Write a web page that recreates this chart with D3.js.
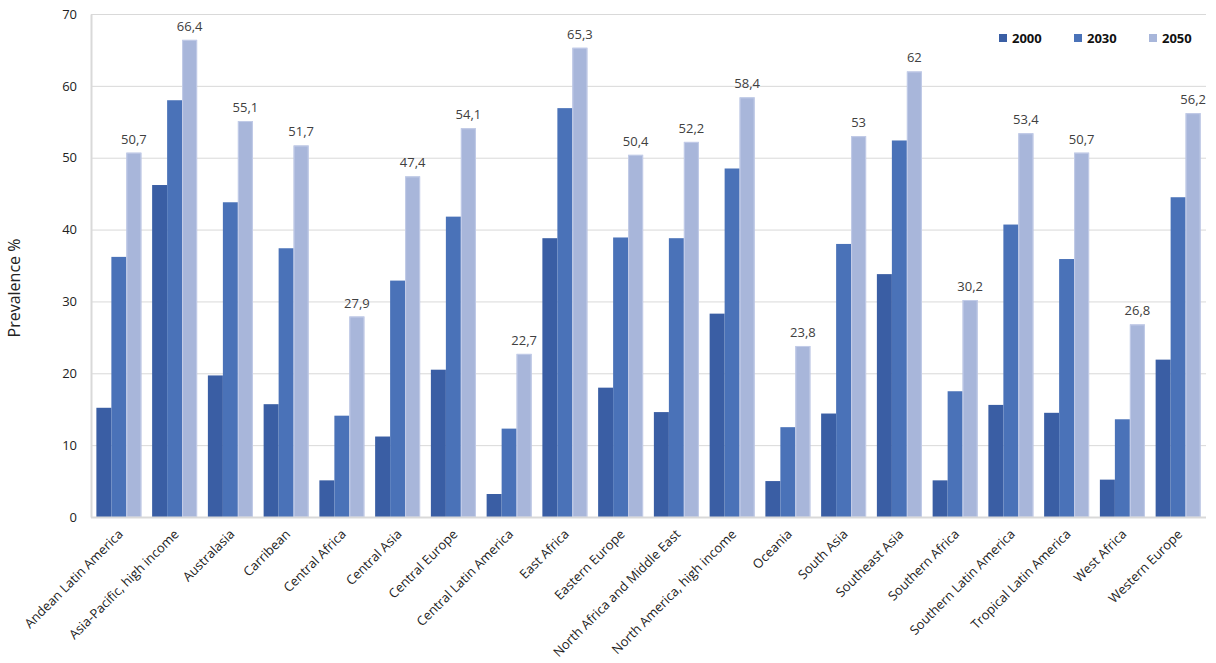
<!DOCTYPE html>
<html><head><meta charset="utf-8">
<script src="https://cdn.jsdelivr.net/npm/d3@7"></script>
<style>body{margin:0;background:#fff;} svg{display:block;}</style>
</head><body>
<svg id="chart" width="1216" height="663"></svg>
<script>
const categories = ["Andean Latin America","Asia-Pacific, high income","Australasia","Carribean","Central Africa","Central Asia","Central Europe","Central Latin America","East Africa","Eastern Europe","North Africa and Middle East","North America, high income","Oceania","South Asia","Southeast Asia","Southern Africa","Southern Latin America","Tropical Latin America","West Africa","Western Europe"];
const seriesNames = ["2000","2030","2050"];
const values2000 = [15.2,46.2,19.7,15.7,5.1,11.2,20.5,3.2,38.8,18.0,14.6,28.3,5.0,14.4,33.8,5.1,15.6,14.5,5.2,21.9];
const values2030 = [36.2,58.0,43.8,37.4,14.1,32.9,41.8,12.3,56.9,38.9,38.8,48.5,12.5,38.0,52.4,17.5,40.7,35.9,13.6,44.5];
const values2050 = [50.7,66.4,55.1,51.7,27.9,47.4,54.1,22.7,65.3,50.4,52.2,58.4,23.8,53.0,62.0,30.2,53.4,50.7,26.8,56.2];
const yTicks = [0,10,20,30,40,50,60,70];
const colors = ["#3a5ea4","#4a72b8","#a8b6da"];

const svg = d3.select("#chart");
const m = {left:91, right:1206, top:14, bottom:517};
const font = "'Open Sans', sans-serif";

const x0 = d3.scaleBand().domain(categories).range([m.left, m.right]).paddingInner(0.193).paddingOuter(0.0965);
const x1 = d3.scaleBand().domain(seriesNames).range([0, x0.bandwidth()]);
const y = d3.scaleLinear().domain([0,70]).range([m.bottom, m.top]);

// gridlines
svg.append("g").selectAll("line").data(yTicks.filter(d=>d>0)).join("line")
  .attr("x1", m.left).attr("x2", m.right)
  .attr("y1", d=>y(d)+0.5).attr("y2", d=>y(d)+0.5)
  .attr("stroke","#d9d9d9").attr("stroke-width",1);

// y axis
const yAxis = svg.append("g").attr("transform",`translate(${m.left},0)`)
  .call(d3.axisLeft(y).tickValues(yTicks).tickSize(0).tickPadding(14));
yAxis.select(".domain").attr("stroke","#d9d9d9").attr("stroke-width",2);
yAxis.selectAll("text").attr("font-family",font).attr("font-size",13).attr("fill","#222");

// bars
const series = [values2000, values2030, values2050];
const groups = svg.append("g").selectAll("g").data(categories).join("g")
  .attr("transform", d=>`translate(${x0(d)},0)`);
groups.selectAll("rect").data((d,i)=>seriesNames.map((s,j)=>({s, v:series[j][i], j}))).join("rect")
  .attr("x", d=>x1(d.s)).attr("width", x1.bandwidth())
  .attr("y", d=>y(d.v)).attr("height", d=>y(0)-y(d.v))
  .attr("fill", d=>colors[d.j]);
// subtle outline on light bars
groups.selectAll("rect.o").data((d,i)=>[{v:values2050[i]}]).join("rect")
  .attr("class","o")
  .attr("x", x1("2050")+0.5).attr("width", x1.bandwidth()-1)
  .attr("y", d=>y(d.v)+0.5).attr("height", d=>y(0)-y(d.v)-0.5)
  .attr("fill","none").attr("stroke","#c3cce8").attr("stroke-width",1);

// x axis line
svg.append("line").attr("x1",m.left).attr("x2",m.right).attr("y1",m.bottom+0.5).attr("y2",m.bottom+0.5)
  .attr("stroke","#d9d9d9").attr("stroke-width",2);

// value labels
groups.append("text")
  .attr("x", x1("2050")+x1.bandwidth()/2)
  .attr("y", (d,i)=>y(values2050[i])-9)
  .attr("text-anchor","middle")
  .attr("font-family",font).attr("font-size",13).attr("fill","#404040")
  .text((d,i)=>String(values2050[i]).replace(".",","));

// category labels
const xAxis = svg.append("g").attr("transform",`translate(0,${m.bottom})`)
  .call(d3.axisBottom(x0).tickSize(0).tickPadding(0));
xAxis.select(".domain").remove();
xAxis.selectAll("text")
  .attr("font-family",font).attr("font-size",13).attr("fill","#222")
  .attr("text-anchor","end").attr("dy",0)
  .attr("transform","translate(5,18) rotate(-45)");

// y title
svg.append("text").attr("transform","translate(20,288) rotate(-90)")
  .attr("text-anchor","middle").attr("font-family",font).attr("font-size",16).attr("fill","#222")
  .text("Prevalence %");

// legend
const lg = svg.append("g").selectAll("g").data(seriesNames).join("g")
  .attr("transform",(d,i)=>`translate(${999+i*75},34)`);
lg.append("rect").attr("width",8).attr("height",8).attr("fill",(d,i)=>colors[i]);
lg.append("text").attr("x",13).attr("y",8.5)
  .attr("font-family",font).attr("font-size",13).attr("font-weight","bold").attr("fill","#111")
  .text(d=>d);
</script>
</body></html>
